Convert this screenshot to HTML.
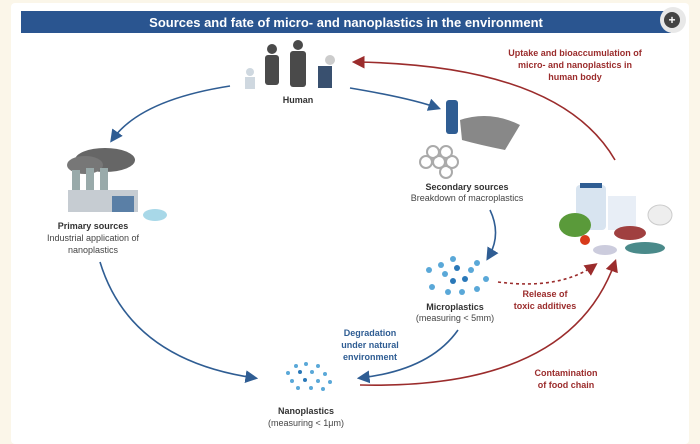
<!DOCTYPE html>
<html><head><style>
html,body{margin:0;padding:0;background:#fbf6e9;}
svg{display:block;font-family:"Liberation Sans",sans-serif;}
</style></head><body>
<svg width="700" height="444" viewBox="0 0 700 444" xmlns="http://www.w3.org/2000/svg">
<defs>
<marker id="ab" markerWidth="8" markerHeight="8" refX="6" refY="4" orient="auto"><path d="M0,0 L8,4 L0,8 z" fill="#2f5d93"/></marker>
<marker id="ar" markerWidth="8" markerHeight="8" refX="6" refY="4" orient="auto"><path d="M0,0 L8,4 L0,8 z" fill="#9b2c2c"/></marker>
</defs>
<rect x="0" y="0" width="700" height="444" fill="#fbf6e9"/>
<rect x="11" y="3" width="678" height="441" rx="4" fill="#ffffff"/>
<rect x="21" y="11" width="650" height="22" fill="#2a5590"/>
<text x="346" y="27" text-anchor="middle" fill="#fff" font-size="13" font-weight="bold">Sources and fate of micro- and nanoplastics in the environment</text>
<circle cx="673" cy="20" r="13" fill="#e8e8e8"/>
<circle cx="672" cy="20" r="8" fill="#444"/>
<text x="672" y="24" text-anchor="middle" fill="#fff" font-size="12" font-weight="bold">+</text>

<!-- arrows -->
<path d="M230 86 Q140 100 112 140" fill="none" stroke="#2f5d93" stroke-width="1.6" marker-end="url(#ab)"/>
<path d="M350 88 Q410 98 438 108" fill="none" stroke="#2f5d93" stroke-width="1.6" marker-end="url(#ab)"/>
<path d="M490 210 Q502 235 488 258" fill="none" stroke="#2f5d93" stroke-width="1.6" marker-end="url(#ab)"/>
<path d="M100 262 Q130 360 255 378" fill="none" stroke="#2f5d93" stroke-width="1.6" marker-end="url(#ab)"/>
<path d="M458 330 Q430 370 360 378" fill="none" stroke="#2f5d93" stroke-width="1.6" marker-end="url(#ab)"/>
<path d="M615 160 Q560 65 355 62" fill="none" stroke="#9b2c2c" stroke-width="1.6" marker-end="url(#ar)"/>
<path d="M360 385 Q570 390 615 262" fill="none" stroke="#9b2c2c" stroke-width="1.6" marker-end="url(#ar)"/>
<path d="M498 282 Q560 290 595 265" fill="none" stroke="#9b2c2c" stroke-width="1.6" stroke-dasharray="3,3" marker-end="url(#ar)"/>

<!-- humans -->
<g fill="#4a4a4a">
<circle cx="272" cy="49" r="5"/><rect x="265" y="55" width="14" height="30" rx="3"/>
<circle cx="298" cy="45" r="5"/><rect x="290" y="51" width="16" height="36" rx="3"/>
<circle cx="330" cy="60" r="5" fill="#ccc"/><rect x="318" y="66" width="14" height="22" fill="#39506f"/>
<circle cx="250" cy="72" r="4" fill="#cfd8e0"/><rect x="245" y="77" width="10" height="12" fill="#cfd8e0"/>
</g>
<text x="298" y="103" text-anchor="middle" font-size="9" font-weight="bold" fill="#333">Human</text>

<!-- factory -->
<g>
<ellipse cx="105" cy="160" rx="30" ry="12" fill="#666"/>
<ellipse cx="85" cy="165" rx="18" ry="9" fill="#777"/>
<rect x="72" y="170" width="8" height="30" fill="#9aa"/>
<rect x="86" y="168" width="8" height="32" fill="#9aa"/>
<rect x="100" y="168" width="8" height="32" fill="#9aa"/>
<rect x="68" y="190" width="70" height="22" fill="#c6ccd2"/>
<rect x="112" y="196" width="22" height="16" fill="#5a7fa6"/>
<ellipse cx="155" cy="215" rx="12" ry="6" fill="#a8d8e8"/>
</g>
<text x="93" y="229" text-anchor="middle" font-size="9" font-weight="bold" fill="#333">Primary sources</text>
<text x="93" y="241" text-anchor="middle" font-size="9" fill="#444">Industrial application of</text>
<text x="93" y="253" text-anchor="middle" font-size="9" fill="#444">nanoplastics</text>

<!-- secondary -->
<rect x="446" y="100" width="12" height="34" rx="3" fill="#2f5d93"/>
<path d="M460 120 Q490 110 520 125 L505 150 Q480 145 462 140 z" fill="#888"/>
<g fill="none" stroke="#aaa" stroke-width="2">
<circle cx="433" cy="152" r="6"/><circle cx="446" cy="152" r="6"/><circle cx="439" cy="162" r="6"/><circle cx="452" cy="162" r="6"/><circle cx="426" cy="162" r="6"/><circle cx="446" cy="172" r="6"/>
</g>
<text x="467" y="190" text-anchor="middle" font-size="9" font-weight="bold" fill="#333">Secondary sources</text>
<text x="467" y="201" text-anchor="middle" font-size="9" fill="#444">Breakdown of macroplastics</text>

<!-- food -->
<rect x="576" y="185" width="30" height="45" rx="4" fill="#d8e4f0"/>
<rect x="580" y="183" width="22" height="5" fill="#2f5d93"/>
<rect x="608" y="196" width="28" height="34" fill="#e8eef6"/>
<ellipse cx="575" cy="225" rx="16" ry="12" fill="#5a9a3a"/>
<circle cx="585" cy="240" r="5" fill="#d83a1a"/>
<ellipse cx="630" cy="233" rx="16" ry="7" fill="#a04040"/>
<ellipse cx="660" cy="215" rx="12" ry="10" fill="#eee" stroke="#ccc"/>
<ellipse cx="645" cy="248" rx="20" ry="6" fill="#4a8a8a"/>
<ellipse cx="605" cy="250" rx="12" ry="5" fill="#ccd"/>

<!-- microplastics dots -->
<g fill="#5aa8d8">
<circle cx="453" cy="259" r="3"/><circle cx="441" cy="265" r="3"/><circle cx="477" cy="263" r="3"/>
<circle cx="429" cy="270" r="3"/><circle cx="445" cy="274" r="3"/><circle cx="457" cy="268" r="3" fill="#2a78b8"/><circle cx="471" cy="270" r="3"/>
<circle cx="453" cy="281" r="3" fill="#2a78b8"/><circle cx="465" cy="279" r="3" fill="#2a78b8"/><circle cx="486" cy="279" r="3"/>
<circle cx="432" cy="287" r="3"/><circle cx="448" cy="292" r="3"/><circle cx="462" cy="292" r="3"/><circle cx="477" cy="289" r="3"/>
</g>
<text x="455" y="310" text-anchor="middle" font-size="9" font-weight="bold" fill="#333">Microplastics</text>
<text x="455" y="321" text-anchor="middle" font-size="9" fill="#444">(measuring &lt; 5mm)</text>

<!-- nanoplastics dots -->
<g fill="#5aa8d8">
<circle cx="296" cy="366" r="2"/><circle cx="306" cy="364" r="2"/><circle cx="318" cy="366" r="2"/>
<circle cx="288" cy="373" r="2"/><circle cx="300" cy="372" r="2" fill="#2a78b8"/><circle cx="312" cy="372" r="2"/><circle cx="325" cy="374" r="2"/>
<circle cx="292" cy="381" r="2"/><circle cx="305" cy="380" r="2" fill="#2a78b8"/><circle cx="318" cy="381" r="2"/><circle cx="330" cy="382" r="2"/>
<circle cx="298" cy="388" r="2"/><circle cx="311" cy="388" r="2"/><circle cx="323" cy="389" r="2"/>
</g>
<text x="306" y="414" text-anchor="middle" font-size="9" font-weight="bold" fill="#333">Nanoplastics</text>
<text x="306" y="426" text-anchor="middle" font-size="9" fill="#444">(measuring &lt; 1μm)</text>

<!-- labels -->
<g font-size="9" font-weight="bold" fill="#9b2c2c" text-anchor="middle">
<text x="575" y="56">Uptake and bioaccumulation of</text>
<text x="575" y="68">micro- and nanoplastics in</text>
<text x="575" y="80">human body</text>
<text x="545" y="297">Release of</text>
<text x="545" y="309">toxic additives</text>
<text x="566" y="376">Contamination</text>
<text x="566" y="388">of food chain</text>
</g>
<g font-size="9" font-weight="bold" fill="#2f5d93" text-anchor="middle">
<text x="370" y="336">Degradation</text>
<text x="370" y="348">under natural</text>
<text x="370" y="360">environment</text>
</g>
</svg>
</body></html>
